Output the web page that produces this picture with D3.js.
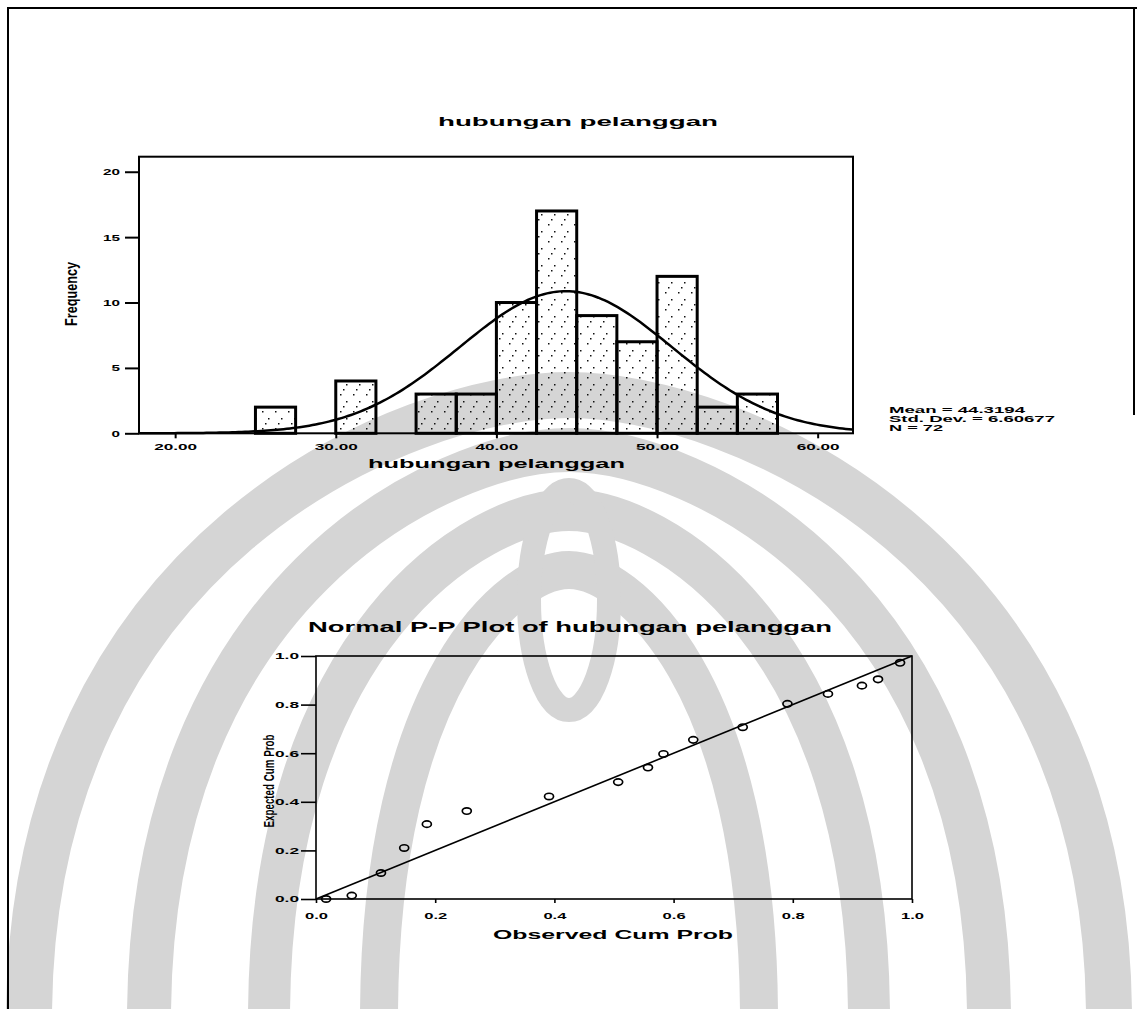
<!DOCTYPE html>
<html>
<head>
<meta charset="utf-8">
<script src="https://cdn.jsdelivr.net/npm/d3@7"></script>
<style>
body { margin: 0; background: #fff; }
text { font-family: "Liberation Sans", Arial, sans-serif; font-weight: bold; fill: #000; }
</style>
</head>
<body>
<div id="chart"></div>
<script>
var width = 1137, height = 1009;

// histogram: bins of 2.5 (only non-empty ones)
var binStart = [25, 30, 35, 37.5, 40, 42.5, 45, 47.5, 50, 52.5, 55];
var binCount = [2, 4, 3, 3, 10, 17, 9, 7, 12, 2, 3];
var binWidth = 2.5;
var histXTicks = [20, 30, 40, 50, 60];
var histYTicks = [0, 5, 10, 15, 20];
var statMean = 44.3194, statSd = 6.60677, statN = 72;
var legendLines = ["Mean = 44.3194", "Std. Dev. = 6.60677", "N = 72"];

// P-P plot points
var observedCum = [0.017, 0.06, 0.109, 0.148, 0.186, 0.253, 0.391, 0.507, 0.557, 0.583, 0.633, 0.716, 0.791, 0.859, 0.916, 0.943, 0.98];
var expectedCum = [0.0, 0.014, 0.107, 0.21, 0.308, 0.362, 0.422, 0.481, 0.541, 0.597, 0.655, 0.707, 0.803, 0.844, 0.878, 0.904, 0.972];
var ppTicks = [0, 0.2, 0.4, 0.6, 0.8, 1.0];

var svg = d3.select("#chart")
	.append("svg")
	.attr("width", width)
	.attr("height", height);

var defs = svg.append("defs");
var dots = defs.append("pattern")
	.attr("id", "dots")
	.attr("patternUnits", "userSpaceOnUse")
	.attr("width", 13)
	.attr("height", 17);
[[2, 3], [8, 10], [5, 15]].forEach(function(p){
	dots.append("rect").attr("x", p[0]).attr("y", p[1]).attr("width", 1.5).attr("height", 1.5).attr("fill", "#111");
});

// watermark (scanned logo) behind the charts, rough arches
var wm = svg.append("g").attr("fill", "none").attr("stroke", "#d5d5d5");
[[395, 540, 46], [450, 420, 44], [510, 300, 42], [570, 190, 38]].forEach(function(a){
	var top = a[0], w = a[1], cx = 569;
	var p = d3.path();
	p.moveTo(cx - w, height + 10);
	p.bezierCurveTo(cx - w, top + (height - top) * 0.25, cx - w * 0.3, top, cx, top);
	p.bezierCurveTo(cx + w * 0.3, top, cx + w, top + (height - top) * 0.25, cx + w, height + 10);
	wm.append("path").attr("d", p.toString()).attr("stroke-width", a[2]);
});
wm.append("ellipse").attr("cx", 569).attr("cy", 600).attr("rx", 40).attr("ry", 110).attr("stroke-width", 24);

// page border
svg.append("path")
	.attr("d", "M8,1009 L8,8 L1137,8 M1134,8 L1134,415")
	.attr("fill", "none").attr("stroke", "#000").attr("stroke-width", 2);

function stretch(sel, w) {
	sel.attr("textLength", w).attr("lengthAdjust", "spacingAndGlyphs");
}

/******************** histogram ********************/
var hx = d3.scaleLinear().domain([17.75, 62.2]).range([139, 853]);
var hy = d3.scaleLinear().domain([0, 21.15]).range([433.3, 156.7]);

svg.append("g")
	.selectAll("rect")
	.data(binStart)
	.enter()
	.append("rect")
	.attr("x", function(d){ return hx(d); })
	.attr("y", function(d, i){ return hy(binCount[i]); })
	.attr("width", function(d){ return hx(d + binWidth) - hx(d); })
	.attr("height", function(d, i){ return hy(0) - hy(binCount[i]); })
	.attr("fill", "url(#dots)")
	.attr("stroke", "#000")
	.attr("stroke-width", 3);

// normal curve from the stats in the legend
var curveX = d3.range(hx.domain()[0], hx.domain()[1] + 0.01, 0.2);
var scaleN = statN * binWidth / (statSd * Math.sqrt(2 * Math.PI));
svg.append("path")
	.datum(curveX)
	.attr("fill", "none")
	.attr("stroke", "#000")
	.attr("stroke-width", 2.5)
	.attr("d", d3.line()
		.x(function(d){ return hx(d); })
		.y(function(d){ return hy(scaleN * Math.exp(-0.5 * Math.pow((d - statMean) / statSd, 2))); }));

svg.append("rect")
	.attr("x", 139).attr("y", 156.7)
	.attr("width", 714).attr("height", 276.6)
	.attr("fill", "none").attr("stroke", "#000").attr("stroke-width", 2);

var hyAxis = svg.append("g")
	.attr("transform", "translate(139,0)")
	.call(d3.axisLeft(hy).tickValues(histYTicks).tickSize(14).tickPadding(5));
hyAxis.select(".domain").remove();
hyAxis.selectAll("line").attr("stroke-width", 2);
hyAxis.selectAll("text").attr("font-size", 9.5).attr("font-family", null)
	.each(function(d){ stretch(d3.select(this), String(d).length * 8.5); });

var hxAxis = svg.append("g")
	.attr("transform", "translate(0,433.3)")
	.call(d3.axisBottom(hx).tickValues(histXTicks).tickSize(5).tickFormat(d3.format(".2f")));
hxAxis.select(".domain").remove();
hxAxis.selectAll("line").attr("stroke-width", 2);
hxAxis.selectAll("text").attr("font-size", 9.5).attr("font-family", null)
	.attr("y", 13).attr("dy", "0.35em");
stretch(hxAxis.selectAll("text"), 43);

var t1 = svg.append("text").text("hubungan pelanggan")
	.attr("x", 438).attr("y", 122).attr("dy", "0.35em").attr("font-size", 12);
stretch(t1, 280);

var t2 = svg.append("text").text("hubungan pelanggan")
	.attr("x", 368).attr("y", 463).attr("dy", "0.35em").attr("font-size", 13);
stretch(t2, 257);

var t3 = svg.append("text").text("Frequency")
	.attr("transform", "translate(71.5,294) rotate(-90)")
	.attr("text-anchor", "middle").attr("dy", "0.35em")
	.attr("font-size", 16).attr("font-weight", "normal");
stretch(t3, 64);

var legendW = [136, 166, 54];
svg.append("g")
	.selectAll("text")
	.data(legendLines)
	.enter()
	.append("text")
	.text(function(d){ return d; })
	.attr("x", 889)
	.attr("y", function(d, i){ return 410 + i * 9; })
	.attr("dy", "0.35em")
	.attr("font-size", 9)
	.attr("textLength", function(d, i){ return legendW[i]; })
	.attr("lengthAdjust", "spacingAndGlyphs");

/******************** P-P plot ********************/
var px = d3.scaleLinear().domain([0, 1]).range([316, 912]);
var py = d3.scaleLinear().domain([0, 1]).range([899, 656]);

svg.append("rect")
	.attr("x", 316).attr("y", 656)
	.attr("width", 596).attr("height", 243)
	.attr("fill", "none").attr("stroke", "#000").attr("stroke-width", 1.6);

svg.append("line")
	.attr("x1", px(0)).attr("y1", py(0))
	.attr("x2", px(1)).attr("y2", py(1))
	.attr("stroke", "#000").attr("stroke-width", 1.6);

svg.append("g")
	.selectAll("ellipse")
	.data(observedCum)
	.enter()
	.append("ellipse")
	.attr("cx", function(d){ return px(d); })
	.attr("cy", function(d, i){ return py(expectedCum[i]); })
	.attr("rx", 4.5).attr("ry", 3.2)
	.attr("fill", "none").attr("stroke", "#000").attr("stroke-width", 1.7);

var pyAxis = svg.append("g")
	.attr("transform", "translate(316,0)")
	.call(d3.axisLeft(py).tickValues(ppTicks).tickSize(15).tickPadding(2).tickFormat(d3.format(".1f")));
pyAxis.select(".domain").remove();
pyAxis.selectAll("line").attr("stroke-width", 1.6);
pyAxis.selectAll("text").attr("font-size", 9).attr("font-family", null);
stretch(pyAxis.selectAll("text"), 24);

var pxAxis = svg.append("g")
	.attr("transform", "translate(0,899)")
	.call(d3.axisBottom(px).tickValues(ppTicks).tickSize(4).tickFormat(d3.format(".1f")));
pxAxis.select(".domain").remove();
pxAxis.selectAll("line").attr("stroke-width", 1.6);
pxAxis.selectAll("text").attr("font-size", 9).attr("font-family", null)
	.attr("y", 17).attr("dy", "0.35em");
stretch(pxAxis.selectAll("text"), 23);

var t4 = svg.append("text").text("Normal P-P Plot of hubungan pelanggan")
	.attr("x", 308).attr("y", 627).attr("dy", "0.35em").attr("font-size", 14);
stretch(t4, 524);

var t5 = svg.append("text").text("Observed Cum Prob")
	.attr("x", 493).attr("y", 934).attr("dy", "0.35em").attr("font-size", 13);
stretch(t5, 240);

var t6 = svg.append("text").text("Expected Cum Prob")
	.attr("transform", "translate(269,781) rotate(-90)")
	.attr("text-anchor", "middle").attr("dy", "0.35em")
	.attr("font-size", 15).attr("font-weight", "normal");
stretch(t6, 93);
</script>
</body>
</html>
